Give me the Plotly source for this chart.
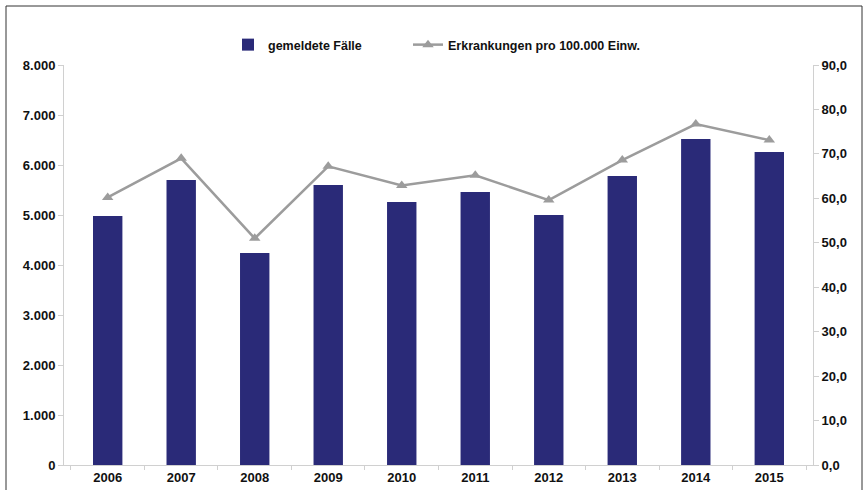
import plotly.graph_objects as go

years = ["2006", "2007", "2008", "2009", "2010", "2011", "2012", "2013", "2014", "2015"]
gemeldete_faelle = [4980, 5700, 4240, 5600, 5260, 5460, 5000, 5780, 6520, 6260]
erkrankungen = [60.2, 69.0, 51.0, 67.2, 62.9, 65.2, 59.6, 68.6, 76.7, 73.1]

left_ticks = [0, 1000, 2000, 3000, 4000, 5000, 6000, 7000, 8000]
right_ticks = [0, 10, 20, 30, 40, 50, 60, 70, 80, 90]

FAM = "Liberation Sans, Arial, sans-serif"
tickfont = dict(family=FAM, size=13, color="#111111", weight="bold")
legfont = dict(family=FAM, size=12.5, color="#111111", weight="bold")

fig = go.Figure()
fig.add_trace(go.Bar(
    x=years, y=gemeldete_faelle, name="gemeldete Fälle",
    marker=dict(color="#2a2a78", line=dict(width=0)), width=0.4,
    yaxis="y", legend="legend",
))
fig.add_trace(go.Scatter(
    x=years, y=erkrankungen, name="Erkrankungen pro 100.000 Einw.",
    mode="lines+markers",
    line=dict(color="#9c9c9c", width=2.5),
    marker=dict(symbol="triangle-up", size=10, color="#9c9c9c"),
    yaxis="y2", legend="legend2",
))

W = 749.0
fig.update_layout(
    width=864, height=490,
    margin=dict(l=64, r=51, t=65, b=25),
    paper_bgcolor="white", plot_bgcolor="white",
    separators=",.",
    font=dict(family=FAM, size=12, color="#111111"),
    showlegend=True,
    legend=dict(
        orientation="h", x=(228 - 64) / W, y=1.05, xanchor="left", yanchor="middle",
        font=legfont, itemwidth=30, bgcolor="rgba(0,0,0,0)",
    ),
    legend2=dict(
        orientation="h", x=(408 - 64) / W, y=1.05, xanchor="left", yanchor="middle",
        font=legfont, itemwidth=30, bgcolor="rgba(0,0,0,0)",
    ),
    xaxis=dict(
        type="category", showgrid=False, showline=True, linecolor="#d0d0d0", linewidth=1,
        ticks="outside", tickson="boundaries", ticklen=4, tickcolor="#d0d0d0",
        tickfont=tickfont, automargin=False,
    ),
    yaxis=dict(
        range=[0, 8000], tickvals=left_ticks, tickformat=",d", showgrid=False,
        showline=True, linecolor="#d0d0d0", linewidth=1,
        ticks="outside", ticklen=5, tickcolor="#d0d0d0",
        tickfont=tickfont, zeroline=False, automargin=False,
    ),
    yaxis2=dict(
        range=[0, 90], tickvals=right_ticks, tickformat=".1f", overlaying="y", side="right",
        showgrid=False, showline=True, linecolor="#d0d0d0", linewidth=1,
        ticks="outside", ticklen=5, tickcolor="#d0d0d0",
        tickfont=tickfont, zeroline=False, automargin=False,
    ),
)

# outer frame
fig.add_shape(type="rect", xref="paper", yref="paper",
              x0=(6 - 64) / W, x1=(862 - 64) / W,
              y0=(465 - 500) / 400, y1=(465 - 6) / 400,
              line=dict(color="#333333", width=1), fillcolor="rgba(0,0,0,0)", layer="below")

fig.write_html("out.html")
